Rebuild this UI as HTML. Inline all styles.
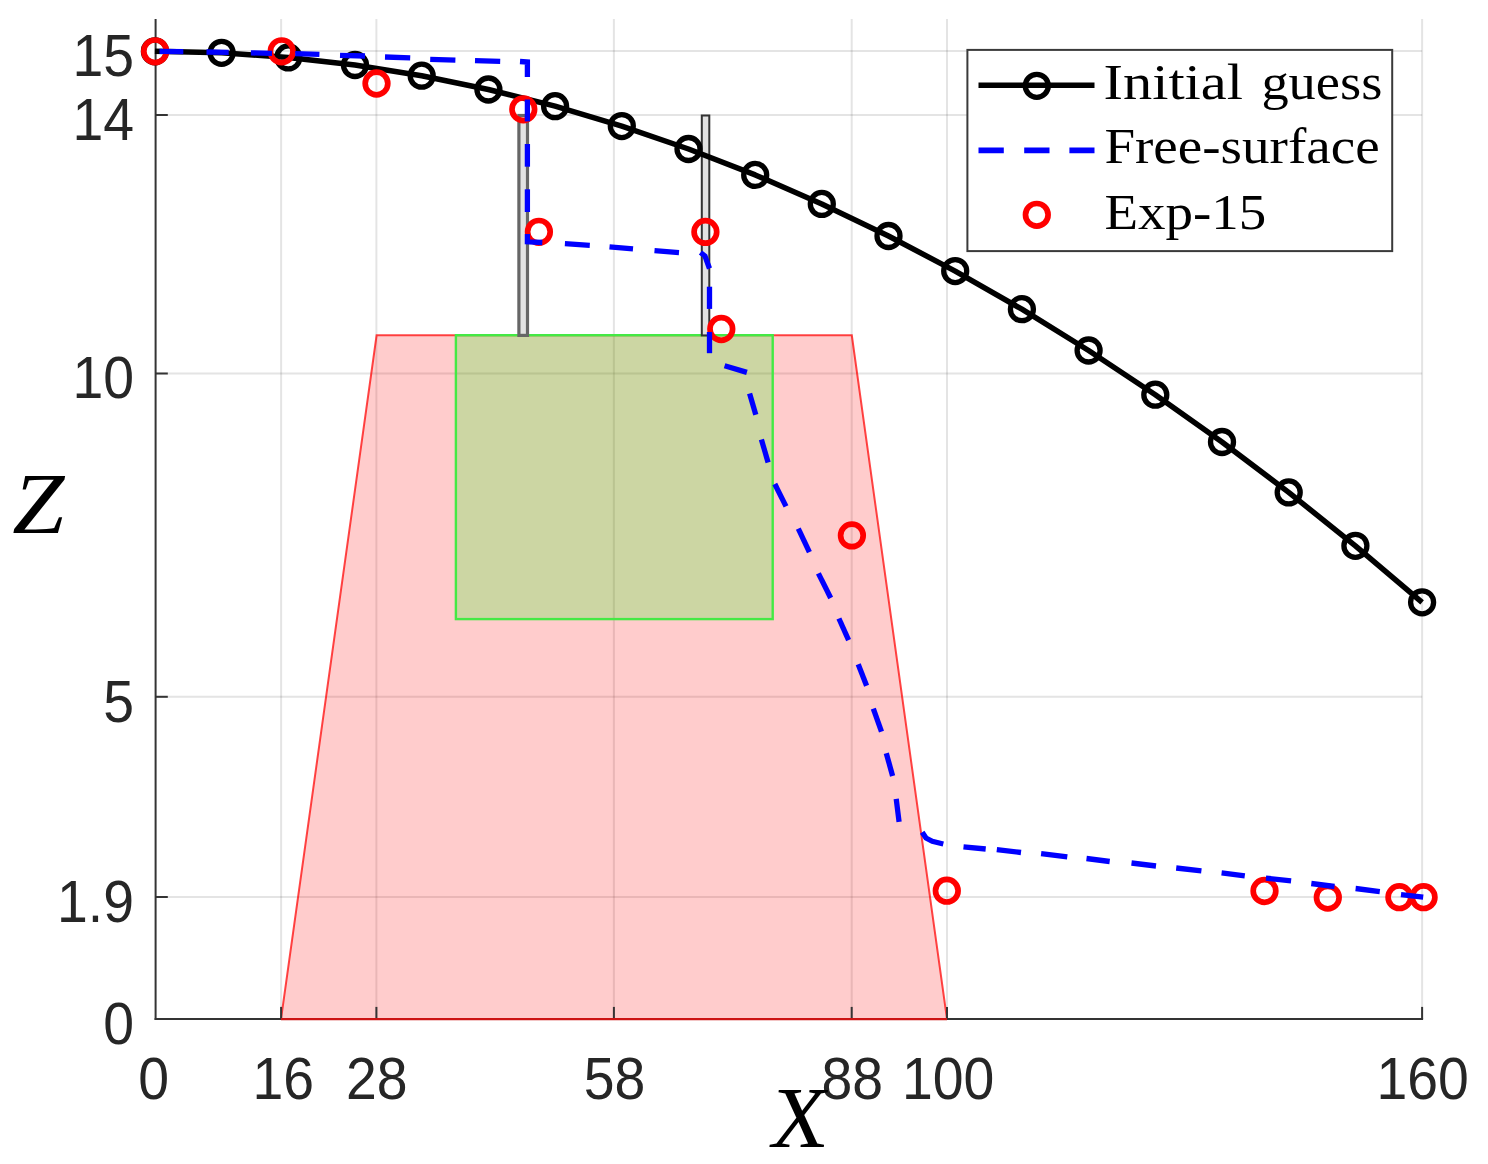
<!DOCTYPE html>
<html><head><meta charset="utf-8"><title>Free-surface plot</title>
<style>html,body{margin:0;padding:0;background:#fff}svg{display:block}</style></head>
<body>
<svg width="1488" height="1164" viewBox="0 0 1488 1164">
<rect width="1488" height="1164" fill="#fff"/>
<g stroke="#262626" stroke-opacity="0.125" stroke-width="2" fill="none">
<line x1="281.1" y1="19.0" x2="281.1" y2="1019.1"/>
<line x1="376.4" y1="19.0" x2="376.4" y2="1019.1"/>
<line x1="613.9" y1="19.0" x2="613.9" y2="1019.1"/>
<line x1="851.7" y1="19.0" x2="851.7" y2="1019.1"/>
<line x1="947.0" y1="19.0" x2="947.0" y2="1019.1"/>
<line x1="1422.1" y1="19.0" x2="1422.1" y2="1019.1"/>
<line x1="155.6" y1="897.0" x2="1422.1" y2="897.0"/>
<line x1="155.6" y1="696.8" x2="1422.1" y2="696.8"/>
<line x1="155.6" y1="373.5" x2="1422.1" y2="373.5"/>
<line x1="155.6" y1="115.0" x2="1422.1" y2="115.0"/>
<line x1="155.6" y1="51.0" x2="1422.1" y2="51.0"/>
</g>
<polygon points="281.0,1019.1 376.6,335.3 851.8,335.3 947.0,1019.1" fill="#ff0000" fill-opacity="0.2" stroke="#ff0000" stroke-opacity="0.72" stroke-width="2"/>
<rect x="455.9" y="335.2" width="316.8" height="283.9" fill="#00ff00" fill-opacity="0.2" stroke="#44e944" stroke-width="2.4"/>
<rect x="518.9" y="115.5" width="8.6" height="219.9" fill="#e2e2e2" stroke="#666" stroke-width="3.2"/>
<rect x="701.8" y="115.5" width="7.5" height="219.9" fill="#e2e2e2" stroke="#333" stroke-width="2.0"/>
<g stroke="#343434" stroke-width="2" fill="none">
<line x1="155.6" y1="19.0" x2="155.6" y2="1020.1"/>
<line x1="154.6" y1="1019.1" x2="1423.1" y2="1019.1"/>
<line x1="281.1" y1="1019.1" x2="281.1" y2="1006.9"/>
<line x1="376.4" y1="1019.1" x2="376.4" y2="1006.9"/>
<line x1="613.9" y1="1019.1" x2="613.9" y2="1006.9"/>
<line x1="851.7" y1="1019.1" x2="851.7" y2="1006.9"/>
<line x1="947.0" y1="1019.1" x2="947.0" y2="1006.9"/>
<line x1="1422.1" y1="1019.1" x2="1422.1" y2="1006.9"/>
<line x1="155.6" y1="897.0" x2="167.79999999999998" y2="897.0"/>
<line x1="155.6" y1="696.8" x2="167.79999999999998" y2="696.8"/>
<line x1="155.6" y1="373.5" x2="167.79999999999998" y2="373.5"/>
<line x1="155.6" y1="115.0" x2="167.79999999999998" y2="115.0"/>
<line x1="155.6" y1="51.0" x2="167.79999999999998" y2="51.0"/>
</g>
<line x1="281.0" y1="1019.1" x2="947.0" y2="1019.1" stroke="#cc1414" stroke-width="2.2"/>
<g stroke="#000" stroke-width="5.5" fill="none" stroke-linejoin="round">
<polyline points="154.9,51.3 221.6,52.8 288.3,57.4 355.0,65.0 421.7,75.7 488.4,89.5 555.1,106.2 621.8,126.1 688.5,149.0 755.2,174.9 821.8,203.9 888.5,236.0 955.2,271.1 1021.9,309.2 1088.6,350.5 1155.3,394.7 1222.0,442.0 1288.7,492.4 1355.4,545.8 1422.1,602.3"/>
<circle cx="154.9" cy="51.3" r="11.5" stroke-width="5.3"/>
<circle cx="221.6" cy="52.8" r="11.5" stroke-width="5.3"/>
<circle cx="288.3" cy="57.4" r="11.5" stroke-width="5.3"/>
<circle cx="355.0" cy="65.0" r="11.5" stroke-width="5.3"/>
<circle cx="421.7" cy="75.7" r="11.5" stroke-width="5.3"/>
<circle cx="488.4" cy="89.5" r="11.5" stroke-width="5.3"/>
<circle cx="555.1" cy="106.2" r="11.5" stroke-width="5.3"/>
<circle cx="621.8" cy="126.1" r="11.5" stroke-width="5.3"/>
<circle cx="688.5" cy="149.0" r="11.5" stroke-width="5.3"/>
<circle cx="755.2" cy="174.9" r="11.5" stroke-width="5.3"/>
<circle cx="821.8" cy="203.9" r="11.5" stroke-width="5.3"/>
<circle cx="888.5" cy="236.0" r="11.5" stroke-width="5.3"/>
<circle cx="955.2" cy="271.1" r="11.5" stroke-width="5.3"/>
<circle cx="1021.9" cy="309.2" r="11.5" stroke-width="5.3"/>
<circle cx="1088.6" cy="350.5" r="11.5" stroke-width="5.3"/>
<circle cx="1155.3" cy="394.7" r="11.5" stroke-width="5.3"/>
<circle cx="1222.0" cy="442.0" r="11.5" stroke-width="5.3"/>
<circle cx="1288.7" cy="492.4" r="11.5" stroke-width="5.3"/>
<circle cx="1355.4" cy="545.8" r="11.5" stroke-width="5.3"/>
<circle cx="1422.1" cy="602.3" r="11.5" stroke-width="5.3"/>
</g>
<g stroke="#ff0000" stroke-width="5.7" fill="none">
<circle cx="155.1" cy="51.3" r="11.3"/>
<circle cx="281.7" cy="51.3" r="11.3"/>
<circle cx="376.5" cy="83.5" r="11.3"/>
<circle cx="523.3" cy="109.3" r="11.3"/>
<circle cx="538.9" cy="231.8" r="11.3"/>
<circle cx="705.4" cy="231.9" r="11.3"/>
<circle cx="721.3" cy="329" r="11.3"/>
<circle cx="851.9" cy="535.4" r="11.3"/>
<circle cx="946.8" cy="890.7" r="11.3"/>
<circle cx="1264.5" cy="891" r="11.3"/>
<circle cx="1327.8" cy="897.6" r="11.3"/>
<circle cx="1399.4" cy="897.2" r="11.3"/>
<circle cx="1423.6" cy="897.2" r="11.3"/>
</g>
<g stroke="#0000ff" stroke-width="5.3" fill="none" stroke-linejoin="miter">
<polyline points="159.5,51.4 183.3,51.6"/>
<polyline points="206.5,52.0 228.7,52.3"/>
<polyline points="250.9,52.9 272.0,53.3"/>
<polyline points="295.2,53.6 319.4,54.3"/>
<polyline points="340.0,55.3 365.0,56.0"/>
<polyline points="385.0,57.0 410.2,57.9"/>
<polyline points="430.2,59.4 455.4,60.2"/>
<polyline points="475.0,60.6 500.2,61.3"/>
<polyline points="520.0,61.5 527.4,62.0 527.4,77.0"/>
<polyline points="527.4,99.5 527.4,121.4"/>
<polyline points="527.4,144.0 527.4,166.7"/>
<polyline points="527.4,189.3 527.4,212.0"/>
<polyline points="527.4,233.9 527.4,241.8 542.3,242.5"/>
<polyline points="564.9,243.6 589.8,245.3"/>
<polyline points="609.5,246.8 633.0,248.8"/>
<polyline points="654.5,250.6 679.0,252.6"/>
<polyline points="700.5,252.5 705.0,256.0 709.5,268.5"/>
<polyline points="709.5,286.7 709.5,308.9"/>
<polyline points="709.5,332.0 709.5,353.2"/>
<polyline points="724.6,365.7 746.9,372.4"/>
<polyline points="749.6,393.6 755.8,414.8"/>
<polyline points="761.4,439.4 768.1,462.4"/>
<polyline points="774.8,484.0 786.0,506.4"/>
<polyline points="798.3,528.7 809.4,552.2"/>
<polyline points="818.4,573.4 830.7,598.0"/>
<polyline points="838.9,618.5 848.6,640.1"/>
<polyline points="858.2,664.2 866.6,685.8"/>
<polyline points="873.3,708.7 881.5,731.6"/>
<polyline points="886.3,753.2 892.6,776.0"/>
<polyline points="896.2,798.9 899.1,821.8"/>
<polyline points="922.2,832.3 926.0,838.0 932.3,841.3 943.3,844.0"/>
<polyline points="963.5,846.8 985.7,849.0"/>
<polyline points="996.8,849.6 1021.0,852.5"/>
<polyline points="1041.1,853.6 1067.3,856.9"/>
<polyline points="1086.5,858.5 1109.7,861.5"/>
<polyline points="1131.5,863.0 1156.0,866.0"/>
<polyline points="1176.2,868.0 1201.4,870.8"/>
<polyline points="1221.6,872.8 1244.8,875.8"/>
<polyline points="1265.9,878.1 1291.1,880.9"/>
<polyline points="1311.3,883.5 1334.5,886.5"/>
<polyline points="1355.6,888.5 1379.8,891.6"/>
<polyline points="1401.0,894.6 1423.2,897.2"/>
</g>
<rect x="967.4" y="49.9" width="424.8" height="201.2" fill="#fff" stroke="#3a3a3a" stroke-width="2"/>
<line x1="978.5" y1="85.3" x2="1094.5" y2="85.3" stroke="#000" stroke-width="5.5"/>
<circle cx="1036.8" cy="85.8" r="11.5" stroke="#000" stroke-width="5.3" fill="none"/>
<path d="M978.5 150.3H1003.8M1024.2 150.3H1049.5M1069.4 150.3H1094.5" stroke="#0000ff" stroke-width="5.8" fill="none"/>
<circle cx="1036.8" cy="214.8" r="11.3" stroke="#ff0000" stroke-width="5.7" fill="none"/>
<g font-family="'Liberation Serif', serif" font-size="51" fill="#000">
<text x="1103.5" y="98.9" textLength="139.5" lengthAdjust="spacingAndGlyphs">Initial</text>
<text x="1261.4" y="98.9" textLength="121" lengthAdjust="spacingAndGlyphs">guess</text>
<text x="1104.4" y="163.3" textLength="275.2" lengthAdjust="spacingAndGlyphs">Free-surface</text>
<text x="1104.4" y="229" textLength="161.9" lengthAdjust="spacingAndGlyphs">Exp-15</text>
</g>
<g font-family="'Liberation Sans', sans-serif" font-size="58.3" fill="#262626">
<text transform="translate(153.7,1098.8) scale(0.95,1)" text-anchor="middle">0</text>
<text transform="translate(283.2,1098.8) scale(0.95,1)" text-anchor="middle">16</text>
<text transform="translate(376.8,1098.8) scale(0.95,1)" text-anchor="middle">28</text>
<text transform="translate(614.6,1098.8) scale(0.95,1)" text-anchor="middle">58</text>
<text transform="translate(852.2,1098.8) scale(0.95,1)" text-anchor="middle">88</text>
<text transform="translate(948.2,1098.8) scale(0.95,1)" text-anchor="middle">100</text>
<text transform="translate(1422.6,1098.8) scale(0.95,1)" text-anchor="middle">160</text>
<text transform="translate(134.0,1043.9) scale(0.95,1)" text-anchor="end">0</text>
<text transform="translate(134.0,921.8) scale(0.95,1)" text-anchor="end">1.9</text>
<text transform="translate(134.0,721.6) scale(0.95,1)" text-anchor="end">5</text>
<text transform="translate(134.0,398.3) scale(0.95,1)" text-anchor="end">10</text>
<text transform="translate(134.0,139.8) scale(0.95,1)" text-anchor="end">14</text>
<text transform="translate(134.0,75.8) scale(0.95,1)" text-anchor="end">15</text>
</g>
<g font-family="'Liberation Serif', serif" font-style="italic" font-size="88" fill="#000">
<text transform="translate(12.2,532.6) scale(1.09,1)" font-size="86">Z</text>
<text transform="translate(772.6,1147.2) scale(1.07,1) skewX(4)" font-size="87">X</text>
</g>
</svg>
</body></html>
